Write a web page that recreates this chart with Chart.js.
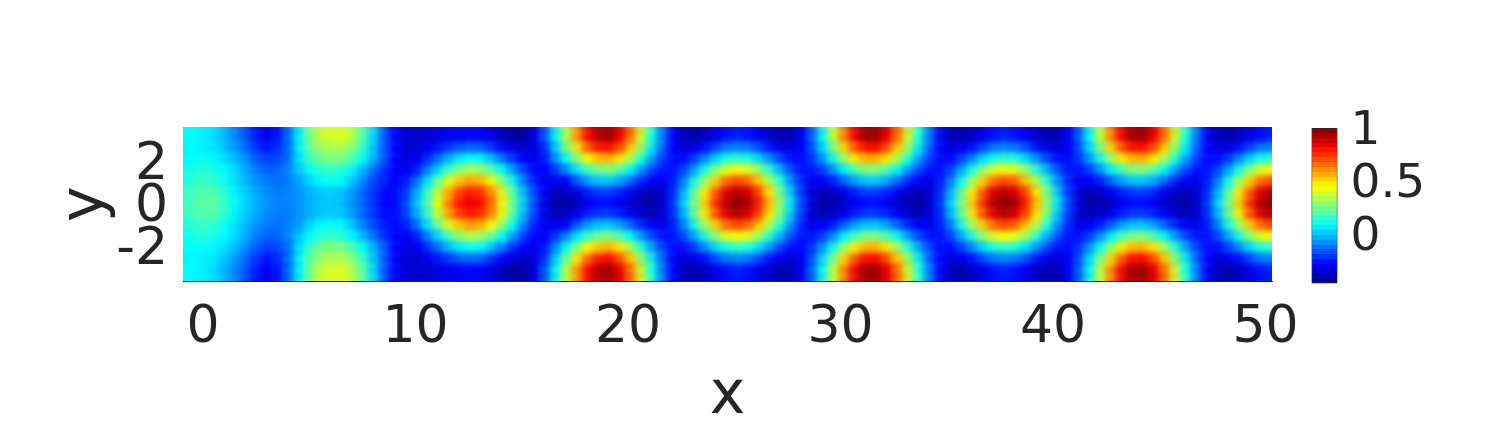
<!DOCTYPE html>
<html>
<head>
<meta charset="utf-8">
<title>Field heatmap</title>
<style>
    html, body { margin: 0; padding: 0; background: #fff; }
    canvas { position: absolute; top: 0; }
    #heat { left: 0; }
    #bar { left: 1290px; }
</style>
<script src="https://cdn.jsdelivr.net/npm/chart.js@4"></script>
</head>
<body>
<canvas id="heat" width="1500" height="427"></canvas>
<canvas id="bar" width="210" height="427"></canvas>
<script>
// Grid nodes
const xNodes = [-1.01,-.5,0,.5,1.01,1.51,2.01,2.51,3.02,3.52,4.02,4.52,5.03,5.53,6.03,6.53,7.04,7.54,8.04,8.55,9.05,9.55,10.05,10.56,11.06,11.56,12.06,12.57,13.07,13.57,14.07,14.58,15.08,15.58,16.08,16.59,17.09,17.59,18.1,18.6,19.1,19.6,20.11,20.61,21.11,21.61,22.12,22.62,23.12,23.62,24.13,24.63,25.13,25.64,26.14,26.64,27.14,27.65,28.15,28.65,29.15,29.66,30.16,30.66,31.16,31.67,32.17,32.67,33.18,33.68,34.18,34.68,35.19,35.69,36.19,36.69,37.2,37.7,38.2,38.7,39.21,39.71,40.21,40.71,41.22,41.72,42.22,42.73,43.23,43.73,44.23,44.74,45.24,45.74,46.24,46.75,47.25,47.75,48.25,48.76,49.26,49.76,50.27,50.77];
const yNodes = [3.64,3.12,2.6,2.08,1.56,1.04,.52,0,-.52,-1.04,-1.56,-2.08,-2.6,-3.12,-3.64];

// Field values per |y| row (the picture is mirrored about y = 0)
const row0 = [.18,.2,.24,.23,.17,.09,.03,-.02,-.06,-.08,-.08,-.05,-.01,.01,.02,0,-.06,-.13,-.2,-.27,-.26,-.15,.03,.22,.45,.66,.81,.86,.81,.66,.45,.22,.02,-.18,-.31,-.41,-.39,-.35,-.28,-.25,
    -.25,-.28,-.34,-.39,-.4,-.33,-.18,.05,.29,.54,.78,.94,1,.94,.78,.54,.29,.05,-.18,-.33,-.4,-.39,-.34,-.28,-.25,
    -.25,-.28,-.34,-.39,-.4,-.33,-.18,.05,.29,.54,.78,.94,1,.94,.78,.54,.29,.05,-.18,-.33,-.4,-.39,-.34,-.28,-.25,
    -.25,-.28,-.34,-.39,-.4,-.33,-.18,.05,.29,.54,.78,.94,1,.94];
const row1 = [.16,.19,.22,.21,.15,.08,.02,-.03,-.07,-.09,-.08,-.05,-.01,.02,.03,.01,-.05,-.13,-.2,-.26,-.25,-.17,-.01,.18,.39,.6,.74,.79,.75,.62,.42,.2,-.01,-.18,-.29,-.37,-.35,-.3,-.22,-.18,
    -.18,-.22,-.29,-.34,-.37,-.33,-.2,.01,.25,.49,.72,.88,.93,.88,.72,.49,.25,.01,-.2,-.33,-.37,-.34,-.29,-.22,-.18,
    -.18,-.22,-.29,-.34,-.37,-.33,-.2,.01,.25,.49,.72,.88,.93,.88,.72,.49,.25,.01,-.2,-.33,-.37,-.34,-.29,-.22,-.18,
    -.18,-.22,-.29,-.34,-.37,-.33,-.2,.01,.25,.49,.72,.88,.93,.88];
const row2 = [.13,.16,.18,.16,.11,.05,-.01,-.06,-.09,-.11,-.08,-.03,.05,.1,.11,.09,.01,-.09,-.17,-.23,-.26,-.22,-.1,.07,.26,.43,.55,.6,.57,.45,.28,.09,-.1,-.23,-.28,-.3,-.27,-.13,-.03,.02,
    .02,-.03,-.12,-.22,-.28,-.29,-.22,-.07,.14,.34,.54,.68,.73,.68,.54,.34,.14,-.07,-.22,-.29,-.28,-.22,-.12,-.03,.02,
    .02,-.03,-.12,-.22,-.28,-.29,-.22,-.07,.14,.34,.54,.68,.73,.68,.54,.34,.14,-.07,-.22,-.29,-.28,-.22,-.12,-.03,.02,
    .02,-.03,-.12,-.22,-.28,-.29,-.22,-.07,.14,.34,.54,.68,.73,.68];
const row3 = [.11,.13,.15,.13,.09,.04,-.03,-.09,-.13,-.12,-.07,.03,.11,.16,.18,.15,.08,-.01,-.12,-.21,-.27,-.29,-.22,-.08,.05,.2,.3,.36,.32,.23,.09,-.05,-.18,-.26,-.27,-.18,-.06,.07,.2,.27,
    .28,.21,.09,-.05,-.17,-.24,-.24,-.16,-.02,.15,.31,.42,.47,.42,.31,.15,-.02,-.16,-.24,-.24,-.17,-.05,.09,.21,.28,
    .28,.21,.09,-.05,-.17,-.24,-.24,-.16,-.02,.15,.31,.42,.47,.42,.31,.15,-.02,-.16,-.24,-.24,-.17,-.05,.09,.21,.28,
    .28,.21,.09,-.05,-.17,-.24,-.24,-.16,-.02,.15,.31,.42,.47,.42];
const row4 = [.09,.1,.11,.09,.05,0,-.07,-.14,-.18,-.16,-.1,.07,.19,.26,.28,.27,.2,.09,-.03,-.15,-.27,-.32,-.29,-.2,-.1,0,.08,.12,.09,.01,-.1,-.2,-.27,-.29,-.23,-.05,.12,.3,.47,.55,
    .57,.49,.33,.14,-.04,-.18,-.25,-.25,-.17,-.06,.05,.14,.17,.14,.05,-.06,-.17,-.25,-.25,-.18,-.04,.14,.33,.49,.57,
    .57,.49,.33,.14,-.04,-.18,-.25,-.25,-.17,-.06,.05,.14,.17,.14,.05,-.06,-.17,-.25,-.25,-.18,-.04,.14,.33,.49,.57,
    .57,.49,.33,.14,-.04,-.18,-.25,-.25,-.17,-.06,.05,.14,.17,.14];
const row5 = [.08,.09,.08,.06,.01,-.05,-.12,-.2,-.24,-.2,-.1,.1,.25,.32,.35,.34,.28,.16,0,-.16,-.27,-.33,-.34,-.28,-.23,-.18,-.13,-.11,-.13,-.19,-.26,-.32,-.34,-.31,-.19,.04,.27,.5,.69,.79,
    .81,.71,.53,.29,.06,-.14,-.27,-.32,-.3,-.24,-.16,-.09,-.07,-.09,-.16,-.24,-.3,-.32,-.27,-.14,.06,.29,.53,.71,.81,
    .81,.71,.53,.29,.06,-.14,-.27,-.32,-.3,-.24,-.16,-.09,-.07,-.09,-.16,-.24,-.3,-.32,-.27,-.14,.06,.29,.53,.71,.81,
    .81,.71,.53,.29,.06,-.14,-.27,-.32,-.3,-.24,-.16,-.09,-.07,-.09];
const row6 = [.09,.09,.08,.05,-.01,-.08,-.15,-.24,-.29,-.23,-.1,.1,.28,.38,.41,.41,.34,.21,.03,-.16,-.27,-.33,-.34,-.33,-.31,-.29,-.27,-.26,-.27,-.31,-.37,-.4,-.4,-.31,-.13,.11,.37,.62,.83,.94,
    .96,.85,.65,.39,.12,-.11,-.28,-.37,-.38,-.35,-.29,-.24,-.22,-.24,-.29,-.35,-.38,-.37,-.28,-.11,.12,.39,.65,.85,.96,
    .96,.85,.65,.39,.12,-.11,-.28,-.37,-.38,-.35,-.29,-.24,-.22,-.24,-.29,-.35,-.38,-.37,-.28,-.11,.12,.39,.65,.85,.96,
    .96,.85,.65,.39,.12,-.11,-.28,-.37,-.38,-.35,-.29,-.24,-.22,-.24];
const row7 = [.1,.09,.08,.05,-.01,-.08,-.16,-.25,-.29,-.23,-.1,.1,.3,.4,.41,.41,.35,.21,.03,-.17,-.28,-.34,-.34,-.33,-.31,-.29,-.27,-.26,-.27,-.31,-.37,-.41,-.4,-.31,-.13,.12,.38,.63,.84,.95,
    .97,.86,.66,.4,.13,-.11,-.28,-.37,-.39,-.36,-.3,-.25,-.23,-.25,-.3,-.36,-.39,-.37,-.28,-.11,.13,.4,.66,.86,.97,
    .97,.86,.66,.4,.13,-.11,-.28,-.37,-.39,-.36,-.3,-.25,-.23,-.25,-.3,-.36,-.39,-.37,-.28,-.11,.13,.4,.66,.86,.97,
    .97,.86,.66,.4,.13,-.11,-.28,-.37,-.39,-.36,-.3,-.25,-.23,-.25];
const fieldRows = [row7,row6,row5,row4,row3,row2,row1,row0,row1,row2,row3,row4,row5,row6,row7];

const xTicks = [0,10,20,30,40,50];
const yTicks = [-2,0,2];
const barTicks = [0,.5,1];
const barRange = [-.45,1.01];

const TEXT_COLOR = '#262626';
const FONT = 'DejaVu Sans';

// Jet colormap
const jet = (v) => {
    const t = Math.min(1, Math.max(0, (v - barRange[0]) / (barRange[1] - barRange[0])));
    const ramp = (c) => Math.round(255 * Math.min(1, Math.max(0, 1.5 - Math.abs(4 * t - c))));
    return `rgb(${ramp(3)},${ramp(2)},${ramp(1)})`;
};

const points = [];
fieldRows.forEach((row, r) => {
    row.forEach((v, c) => points.push({ x: xNodes[c], y: yNodes[r], v }));
});

// Soften the cell edges so the grid reads as a continuous field.
// Later cells overlap earlier ones, so nudge by half the overlap to keep them centred.
const softCells = {
    id: 'softCells',
    beforeDatasetDraw(chart) {
        const { ctx, chartArea: a } = chart;
        ctx.save();
        ctx.beginPath();
        ctx.rect(a.left, a.top, a.width, a.height);
        ctx.clip();
        ctx.translate(3.6, 3.5);
        ctx.filter = 'blur(3px)';
    },
    afterDatasetDraw(chart) { chart.ctx.restore(); }
};

new Chart(document.getElementById('heat'), {
    type: 'scatter',
    plugins: [softCells],
    data: {
        datasets: [{
            data: points,
            clip: false,
            pointStyle: 'rect',
            pointRadius: 13,
            pointBorderWidth: 0,
            pointBackgroundColor: (ctx) => jet(ctx.raw.v)
        }]
    },
    options: {
        responsive: false,
        animation: false,
        events: [],
        devicePixelRatio: 1,
        layout: { padding: { top: 127, right: 228, left: 0, bottom: 0 } },
        plugins: { legend: { display: false }, tooltip: { enabled: false } },
        scales: {
            x: {
                type: 'linear',
                min: -.94,
                max: 50.3,
                afterFit: (s) => { s.height = 145.5; },
                afterBuildTicks: (s) => { s.ticks = xTicks.map(value => ({ value })); },
                grid: { display: false },
                border: { display: true, color: TEXT_COLOR, width: 1, z: 1 },
                ticks: {
                    color: TEXT_COLOR,
                    font: { family: FONT, size: 52 },
                    padding: 8,
                    maxRotation: 0,
                    autoSkip: false
                },
                title: {
                    display: true,
                    text: 'x',
                    color: TEXT_COLOR,
                    font: { family: FONT, size: 60 },
                    padding: { top: 0, bottom: -6 }
                }
            },
            y: {
                type: 'linear',
                min: -3.63,
                max: 3.63,
                afterFit: (s) => { s.width = 183; },
                afterBuildTicks: (s) => { s.ticks = yTicks.map(value => ({ value })); },
                grid: { display: false },
                border: { display: false },
                ticks: {
                    color: TEXT_COLOR,
                    font: { family: FONT, size: 52 },
                    padding: 7,
                    labelOffset: 3.5,
                    autoSkip: false
                },
                title: {
                    display: true,
                    text: 'y',
                    color: TEXT_COLOR,
                    font: { family: FONT, size: 60 },
                    padding: { top: 50, bottom: 0 }
                }
            }
        }
    }
});

// Colorbar, banded like the reference
const BANDS = 32;
const barFill = (ctx) => {
    const { chart } = ctx;
    if (!chart.chartArea) return '#000';
    const { top, bottom } = chart.chartArea;
    const grad = chart.ctx.createLinearGradient(0, bottom, 0, top);
    for (let i = 0; i < BANDS; i++) {
        const v = barRange[0] + (barRange[1] - barRange[0]) * (i + .5) / BANDS;
        grad.addColorStop(i / BANDS, jet(v));
        grad.addColorStop((i + 1) / BANDS, jet(v));
    }
    return grad;
};

new Chart(document.getElementById('bar'), {
    type: 'bar',
    data: {
        labels: ['u'],
        datasets: [{
            data: [barRange],
            backgroundColor: barFill,
            borderColor: TEXT_COLOR,
            borderWidth: 1,
            borderSkipped: false,
            barPercentage: 1,
            categoryPercentage: 1
        }]
    },
    options: {
        responsive: false,
        animation: false,
        events: [],
        devicePixelRatio: 1,
        layout: { padding: { top: 128, bottom: 143.5, left: 21.5, right: 0 } },
        plugins: { legend: { display: false }, tooltip: { enabled: false } },
        scales: {
            x: { display: false },
            y: {
                position: 'right',
                min: barRange[0],
                max: barRange[1],
                afterFit: (s) => { s.width = 162.5; },
                afterBuildTicks: (s) => { s.ticks = barTicks.map(value => ({ value })); },
                grid: { display: false },
                border: { display: false },
                ticks: {
                    color: TEXT_COLOR,
                    font: { family: FONT, size: 47 },
                    padding: 5,
                    labelOffset: 2.5,
                    autoSkip: false,
                    callback: (v) => String(v)
                }
            }
        }
    }
});
</script>
</body>
</html>
